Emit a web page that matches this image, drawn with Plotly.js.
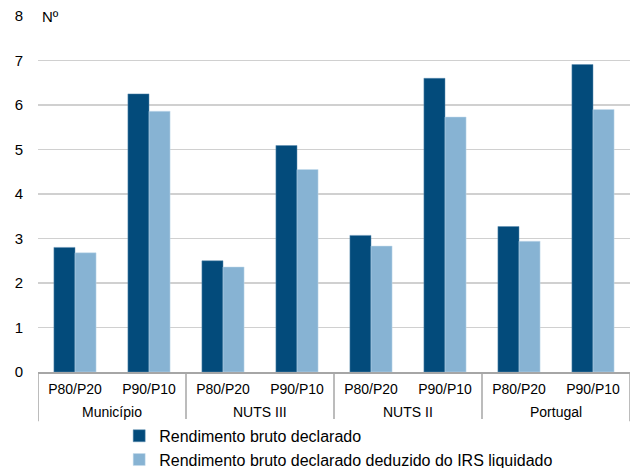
<!DOCTYPE html>
<html>
<head>
<meta charset="utf-8">
<script src="https://cdn.plot.ly/plotly-3.0.1.min.js"></script>
<style>html,body{margin:0;padding:0;background:#fff;}#chart{width:634px;height:468px;}</style>
</head>
<body>
<div id="chart"></div>
<script>
var groupNames = ["Município", "NUTS III", "NUTS II", "Portugal"];
var ratios = ["P80/P20", "P90/P10", "P80/P20", "P90/P10", "P80/P20", "P90/P10", "P80/P20", "P90/P10"];
var seriesNames = ["Rendimento bruto declarado", "Rendimento bruto declarado deduzido do IRS liquidado"];
var brutoDeclarado = [2.80, 6.25, 2.50, 5.09, 3.07, 6.60, 3.27, 6.91];
var brutoDeduzido = [2.68, 5.86, 2.36, 4.55, 2.83, 5.73, 2.94, 5.90];
var yTicks = [0, 1, 2, 3, 4, 5, 6, 7, 8];

var font = "Liberation Sans";
var xIdx = ratios.map(function (_, i) { return i; });
var perGroup = ratios.length / groupNames.length;

var traces = [
  {type: "bar", name: seriesNames[0], x: xIdx, y: brutoDeclarado,
   marker: {color: "#034b7b", line: {color: "#5f8fb3", width: 0.5}}},
  {type: "bar", name: seriesNames[1], x: xIdx, y: brutoDeduzido,
   marker: {color: "#87b3d3", line: {color: "#c7dcec", width: 0.5}}}
];

var annotations = [{text: "Nº", xref: "paper", yref: "paper", x: 0.003, y: 1, xanchor: "left", yanchor: "middle",
                    showarrow: false, font: {family: font, size: 15, color: "#000"}, bgcolor: "#fff"}];
var shapes = [];
groupNames.forEach(function (g, k) {
  annotations.push({text: g, xref: "x", yref: "paper", x: k * perGroup + (perGroup - 1) / 2, y: -0.112,
                    xanchor: "center", yanchor: "middle", showarrow: false,
                    font: {family: font, size: 14, color: "#000"}});
});
for (var k = 0; k <= groupNames.length; k++) {
  shapes.push({type: "line", xref: "x", yref: "paper", x0: k * perGroup - 0.5, x1: k * perGroup - 0.5,
               y0: 0, y1: -0.138, line: {color: "#a6a6a6", width: 1.5}});
}

var layout = {
  width: 634, height: 468,
  margin: {l: 38, r: 4, t: 16, b: 96, autoexpand: false},
  paper_bgcolor: "#fff", plot_bgcolor: "#fff",
  font: {family: font, size: 13, color: "#000"},
  barmode: "group", bargap: 0.43, bargroupgap: 0,
  showlegend: true,
  legend: {orientation: "v", xref: "container", x: 0.188, xanchor: "left", yref: "container", y: 0.105, yanchor: "top",
           font: {family: font, size: 16, color: "#000"}, tracegroupgap: 0, itemwidth: 30},
  xaxis: {range: [-0.5, ratios.length - 0.5], tickvals: xIdx, ticktext: ratios, showline: true,
          linecolor: "#a6a6a6", linewidth: 1.5, zeroline: false, showgrid: false, ticks: "",
          ticklabelstandoff: 4, tickfont: {family: font, size: 14, color: "#000"}},
  yaxis: {range: [0, 8], tickvals: yTicks, showgrid: true, gridcolor: "#d0d0d0", gridwidth: 1.5,
          zeroline: false, showline: false, ticks: "", ticklabelstandoff: 14,
          tickfont: {family: font, size: 15, color: "#000"}},
  annotations: annotations,
  shapes: shapes
};
Plotly.newPlot("chart", traces, layout, {displayModeBar: false, staticPlot: true});
</script>
</body>
</html>
